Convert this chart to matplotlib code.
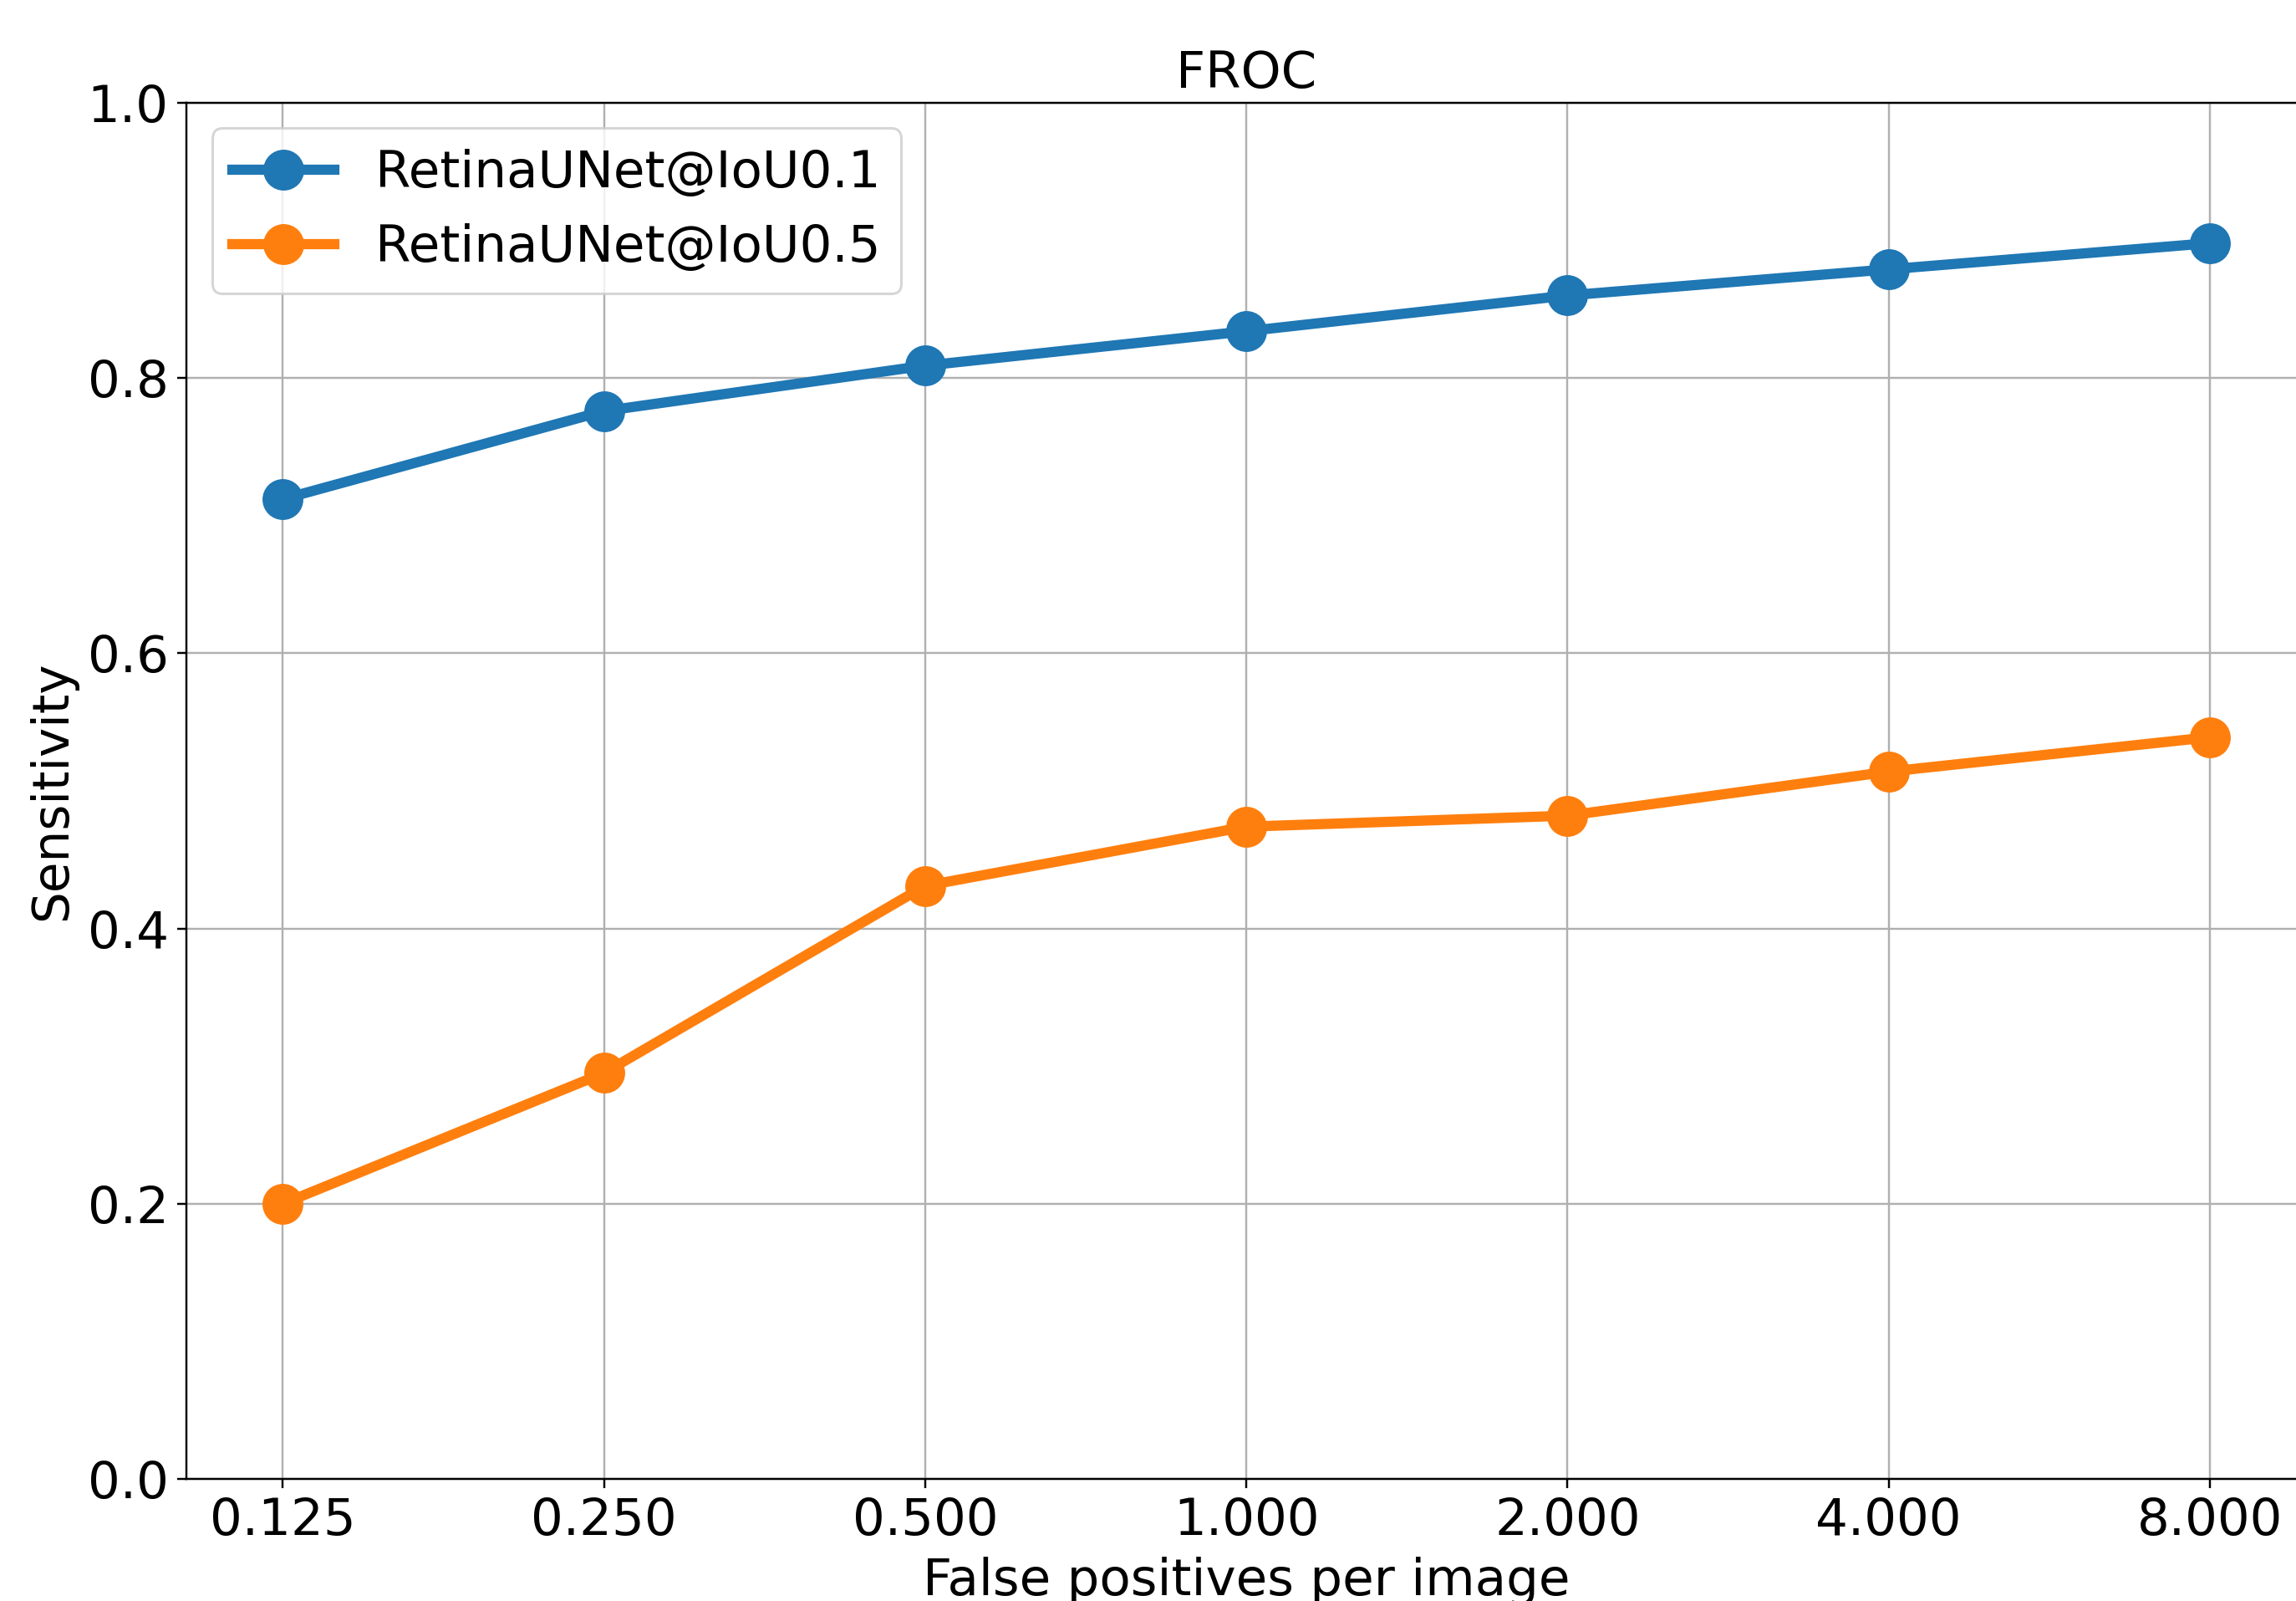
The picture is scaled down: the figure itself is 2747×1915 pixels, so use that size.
import matplotlib
matplotlib.use("Agg")
import matplotlib.pyplot as plt

fp_per_image = [0.125, 0.25, 0.5, 1.0, 2.0, 4.0, 8.0]
tick_labels = ["0.125", "0.250", "0.500", "1.000", "2.000", "4.000", "8.000"]

sens_iou01 = [0.712, 0.776, 0.809, 0.834, 0.860, 0.879, 0.898]
sens_iou05 = [0.200, 0.295, 0.431, 0.474, 0.482, 0.514, 0.539]

fig = plt.figure(figsize=(2747 / 220, 1915 / 220), dpi=220)
# axes runs slightly past the right edge, like the cropped original
ax = fig.add_axes([0.0812, 0.0762, 0.9232, 0.8596])

ax.plot(fp_per_image, sens_iou01, marker="o", linewidth=4, markersize=15,
        color="tab:blue", label="RetinaUNet@IoU0.1")
ax.plot(fp_per_image, sens_iou05, marker="o", linewidth=4, markersize=15,
        color="tab:orange", label="RetinaUNet@IoU0.5")

ax.set_xscale("log", base=2)
ax.set_xticks(fp_per_image)
ax.set_xticklabels(tick_labels)
ax.minorticks_off()
ax.set_ylim(0, 1.0)
ax.set_yticks([0.0, 0.2, 0.4, 0.6, 0.8, 1.0])

ax.tick_params(labelsize=20)
ax.set_xlabel("False positives per image", fontsize=20)
ax.set_ylabel("Sensitivity", fontsize=19.5)
ax.set_title("FROC", fontsize=20)
ax.grid()
ax.legend(loc="upper left", fontsize=20)

fig.savefig("out.png", dpi=220)
